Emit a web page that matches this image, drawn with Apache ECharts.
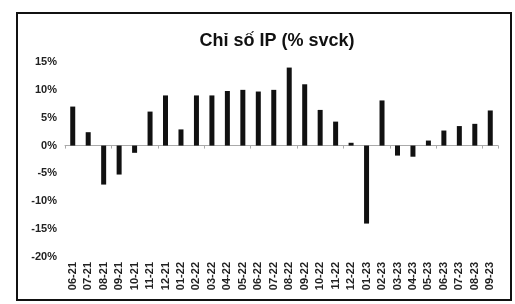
<!DOCTYPE html>
<html>
<head>
<meta charset="utf-8">
<script src="https://cdn.jsdelivr.net/npm/echarts@6/dist/echarts.min.js"></script>
<style>
  html, body { margin: 0; padding: 0; background: #fff; }
  #chart { width: 515px; height: 304px; }
</style>
</head>
<body>
<div id="chart"></div>
<script>
var months = ['06-21', '07-21', '08-21', '09-21', '10-21', '11-21', '12-21',
  '01-22', '02-22', '03-22', '04-22', '05-22', '06-22', '07-22', '08-22', '09-22',
  '10-22', '11-22', '12-22', '01-23', '02-23', '03-23', '04-23', '05-23', '06-23',
  '07-23', '08-23', '09-23'];
var ipYoY = [7.0, 2.4, -7.0, -5.2, -1.3, 6.1, 9.0, 2.9, 9.0, 9.0, 9.8, 10.0, 9.7, 10.0,
  14.0, 11.0, 6.4, 4.3, 0.5, -14.0, 8.1, -1.8, -2.0, 0.9, 2.7, 3.5, 3.9, 6.3];
var yTicks = { min: -20, max: 15, interval: 5 };

var myChart = echarts.init(document.getElementById('chart'));

var option = {
  backgroundColor: '#fff',
  animation: false,
  title: {
    text: 'Chỉ số IP (% svck)',
    left: 272,
    textAlign: 'center',
    top: 27,
    textStyle: { fontFamily: 'Liberation Sans', fontSize: 18, fontWeight: 'bold', color: '#111' }
  },
  graphic: [{
    type: 'rect',
    shape: { x: 17, y: 13, width: 494, height: 287 },
    style: { fill: 'none', stroke: '#111', lineWidth: 2 }
  }],
  grid: { left: 65, right: 17, top: 62, bottom: 47 },
  xAxis: [
    {
      type: 'category',
      data: months,
      position: 'bottom',
      axisLine: { show: false, onZero: false },
      axisTick: { show: false },
      axisLabel: {
        rotate: 90,
        interval: 0,
        margin: 5,
        fontFamily: 'Liberation Sans',
        fontSize: 11,
        fontWeight: 'bold',
        color: '#222'
      }
    },
    {
      type: 'category',
      data: months,
      position: 'bottom',
      axisLine: { show: true, onZero: true, onZeroAxisIndex: 0, lineStyle: { color: '#aaa', width: 1 } },
      axisTick: { show: true, length: 3, lineStyle: { color: '#aaa' } },
      axisLabel: { show: false }
    }
  ],
  yAxis: {
    type: 'value',
    min: yTicks.min,
    max: yTicks.max,
    interval: yTicks.interval,
    axisLine: { show: false },
    axisTick: { show: false },
    splitLine: { show: false },
    axisLabel: {
      formatter: '{value}%',
      margin: 8,
      fontFamily: 'Liberation Sans',
      fontSize: 11,
      fontWeight: 'bold',
      color: '#222'
    }
  },
  series: [{
    name: 'IP',
    type: 'bar',
    xAxisIndex: 0,
    data: ipYoY,
    barWidth: 5,
    itemStyle: { color: '#111' }
  }]
};

myChart.setOption(option);
</script>
</body>
</html>
